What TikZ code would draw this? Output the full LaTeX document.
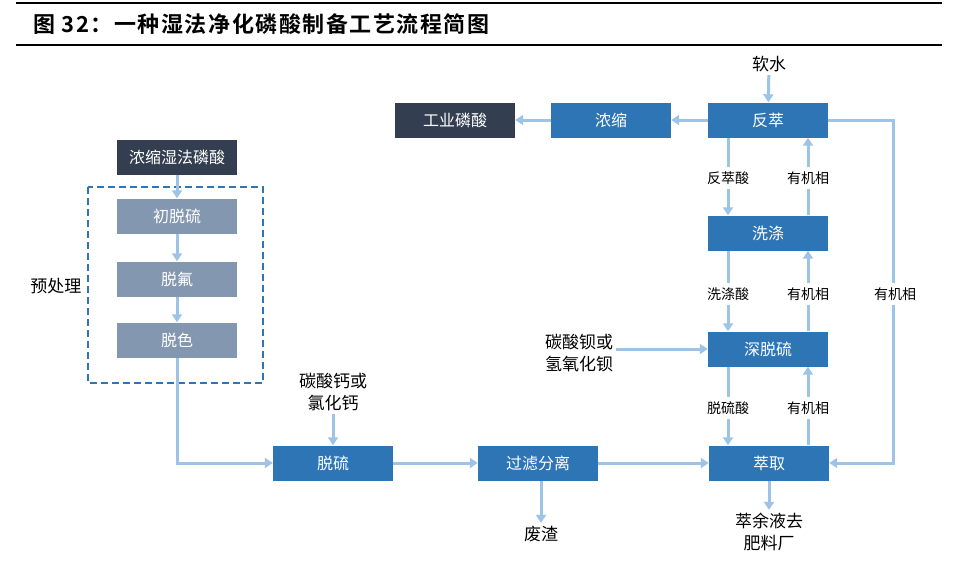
\documentclass[tikz,border=0pt]{standalone}
\usepackage{fontspec}
\setmainfont{Noto Sans CJK SC}[BoldFont={Noto Sans CJK SC Bold}]
\newfontfamily\titrefont{Noto Sans CJK SC Bold}[LetterSpace=7]
\usetikzlibrary{positioning,arrows.meta}
\definecolor{boite}{HTML}{2E75B6}
\definecolor{sombre}{HTML}{333F50}
\definecolor{grise}{HTML}{8497B0}
\definecolor{fleche}{HTML}{9DC3E6}

\begin{document}
\begin{tikzpicture}[x=1pt,y=-1pt,
  bloc/.style={fill=boite,text=white,minimum width=120pt,minimum height=35pt,
    inner sep=0pt,font=\fontsize{16}{16}\selectfont},
  blocsombre/.style={bloc,fill=sombre},
  blocgris/.style={bloc,fill=grise},
  lien/.style={draw=fleche,line width=3pt},
  fl/.style={lien,-{Triangle[length=8pt,width=10pt]}},
  etiq/.style={font=\fontsize{17}{22}\selectfont,align=center,inner sep=3pt},
  petit/.style={font=\fontsize{14}{16}\selectfont,inner sep=4pt}]
  \useasboundingbox (0,0) rectangle (959,562);
  % titre
  \draw[line width=2pt] (16,3) -- (942,3);
  \draw[line width=2pt] (16,45) -- (942,45);
  \node[anchor=west,inner sep=0pt,font=\fontsize{22}{22}\titrefont] (titre) at (33,24)
    {图 32：一种湿法净化磷酸制备工艺流程简图};
  % pretraitement
  \node[blocsombre] (brut) at (177,157) {浓缩湿法磷酸};
  \node[blocgris] (initial) at (177,216) {初脱硫};
  \node[blocgris] (fluor) at (177,279) {脱氟};
  \node[blocgris] (couleur) at (177,340) {脱色};
  \draw[boite,line width=1.5pt,dash pattern=on 7pt off 4pt] (88,187) rectangle (263,383);
  \node[etiq] (pretrait) at (56,286) {预处理};
  \draw[fl] (brut) -- (initial);
  \draw[fl] (initial) -- (fluor);
  \draw[fl] (fluor) -- (couleur);
  % ligne du bas
  \node[bloc] (desulf) at (333,463) {脱硫};
  \node[bloc] (filtre) at (538,463) {过滤分离};
  \node[bloc] (extract) at (769,463) {萃取};
  \node[etiq] (calcium) at (333,392) {碳酸钙或\\氯化钙};
  \node[etiq] (residu) at (541,534) {废渣};
  \node[etiq] (raffinat) at (769,532) {萃余液去\\肥料厂};
  \node[etiq] (baryum) at (579,353) {碳酸钡或\\氢氧化钡};
  \draw[fl] (couleur) |- (desulf);
  \draw[fl] (calcium) -- (desulf);
  \draw[fl] (desulf) -- (filtre);
  \draw[fl] (filtre) -- (extract);
  \draw[fl] (filtre.south -| residu) -- (residu);
  \draw[fl] (extract) -- (raffinat);
  % colonne de droite
  \node[bloc] (lavage) at (768,233) {洗涤};
  \node[bloc] (profond) at (768,349) {深脱硫};
  \node[bloc] (reextr) at (768,120) {反萃};
  \node[bloc] (concen) at (611,120) {浓缩};
  \node[blocsombre] (produit) at (455,120) {工业磷酸};
  \node[etiq] (eau) at (769,64) {软水};
  \draw[fl] (eau) -- (reextr);
  \draw[fl] (reextr) -- (concen);
  \draw[fl] (concen) -- (produit);
  \draw[fl] (baryum.east |- profond) -- (profond);
  \foreach \haut/\bas/\acide/\y/\n in {reextr/lavage/反萃酸/178/1,
      lavage/profond/洗涤酸/294/2,profond/extract/脱硫酸/408/3}{%
    \node[petit] (acide\n) at (728,\y) {\acide};
    \node[petit] (orga\n) at (808,\y) {有机相};
    \draw[lien] (\haut.south -| acide\n) -- (acide\n);
    \draw[fl] (acide\n) -- (\bas.north -| acide\n);
    \draw[lien] (\bas.north -| orga\n) -- (orga\n);
    \draw[fl] (orga\n) -- (\haut.south -| orga\n);
  }
  \node[petit] (retour) at (895,294) {有机相};
  \draw[lien] (reextr.east) -| (retour.north -| 893,0);
  \draw[fl] (retour.south -| 893,0) |- (extract.east);
\end{tikzpicture}
\end{document}
